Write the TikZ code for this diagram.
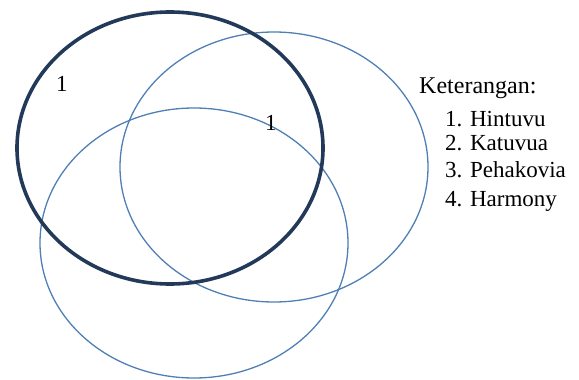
\documentclass[tikz,border=0pt]{standalone}
\usepackage{fontspec}
\setmainfont{Liberation Serif}
\usepackage{xcolor}
\definecolor{vennblue}{HTML}{4F7FB4}
\definecolor{venndark}{HTML}{22395A}
\tikzset{
  venn set/.style={draw=vennblue, line width=1.3pt},
  venn main/.style={draw=venndark, line width=3.6pt},
  venn count/.style={font=\fontsize{23}{23}\selectfont, inner sep=0pt, anchor=base west},
  legend head/.style={font=\fontsize{24}{24}\selectfont, inner sep=0pt, anchor=base west},
  legend item/.style={font=\fontsize{23}{23}\selectfont, inner sep=0pt, anchor=base west},
}

\begin{document}
\begin{tikzpicture}[x=1pt,y=-1pt]
  \useasboundingbox (0,0) rectangle (579,380);

  % the three sets, the first one drawn heavy on top
  \draw[venn set] (274,167) ellipse [x radius=154, y radius=135];
  \draw[venn set] (194,243) ellipse [x radius=154, y radius=135];
  \draw[venn main] (170,148) ellipse [x radius=153, y radius=136];

  \node[venn count] (cntA) at (56,91) {1};
  \node[venn count] (cntB) at (265,130) {1};

  \node[legend head] (ket) at (419,93) {Keterangan:};
  \node[legend item] (itemA) at (445,126) {1. Hintuvu};
  \node[legend item] (itemB) at (445,150) {2. Katuvua};
  \node[legend item] (itemC) at (445,177) {3. Pehakovia};
  \node[legend item] (itemD) at (445,206) {4. Harmony};
\end{tikzpicture}
\end{document}
